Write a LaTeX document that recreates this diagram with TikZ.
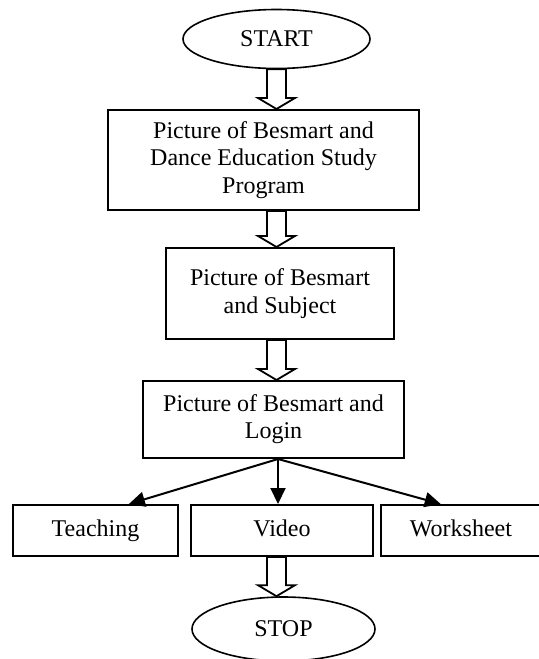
\documentclass[tikz,border=0pt]{standalone}
\usepackage{fontspec}
\setmainfont{Liberation Serif}
\usetikzlibrary{calc,arrows.meta,shapes.geometric}

% hollow block arrow from #1 (top) down to #2 (tip)
\newcommand{\hollowarrow}[2]{%
  \draw[fat] ($(#1)+(-9.5,0)$) -- ($(#2)+(-9.5,-11)$) -- ($(#2)+(-18.5,-11)$)
    -- (#2) -- ($(#2)+(18.5,-11)$) -- ($(#2)+(9.5,-11)$) -- ($(#1)+(9.5,0)$) -- cycle;}

\begin{document}
\begin{tikzpicture}[
  x=0.5pt, y=-0.5pt,
  font=\fontsize{12}{13.6}\selectfont,
  terminal/.style={ellipse, draw, line width=0.8pt, inner sep=0pt},
  box/.style={rectangle, draw, line width=1pt, inner sep=0pt, align=center},
  item/.style={box, minimum height=25.5pt, text height=8.4pt, text depth=2.6pt},
  fat/.style={draw, line width=0.9pt, fill=white, line join=miter},
  branch/.style={line width=1pt, -{Triangle[length=8pt,width=7.5pt]}}
]
  \useasboundingbox (0,0) rectangle (538,659);

  \node[terminal, minimum width=93.5pt, minimum height=29.5pt] (S) at (276.5,39) {START};
  \node[box, minimum width=155.5pt, minimum height=50pt] (B1) at (263.5,160)
    {Picture of Besmart and\\Dance Education Study\\Program};
  \node[box, minimum width=114pt, minimum height=45.5pt] (B2) at (280,293.5)
    {Picture of Besmart\\and Subject};
  \node[box, minimum width=130.5pt, minimum height=38.5pt] (B3) at (273.5,419.5)
    {Picture of Besmart and\\Login};
  \node[item, minimum width=82.5pt] (T) at (95.5,530.5) {Teaching};
  \node[item, minimum width=91pt] (V) at (282,530.5) {Video};
  \node[item, minimum width=80pt] (W) at (461,530.5) {Worksheet};
  \node[terminal, minimum width=91.5pt, minimum height=32pt] (E) at (283.5,629) {STOP};

  \hollowarrow{S.south}{B1.north -| S.south}
  \hollowarrow{B1.south -| S.south}{B2.north -| S.south}
  \hollowarrow{B2.south -| S.south}{B3.north -| S.south}
  \hollowarrow{V.south -| S.south}{E.north -| S.south}

  \coordinate (fork) at ($(B3.south)+(4.5,0)$);
  \draw[branch] (fork) -- ($(T.north)!0.4!(T.north east)$);
  \draw[branch] (fork) -- (fork |- V.north);
  \draw[branch] (fork) -- ($(W.north west)!0.75!(W.north)$);
\end{tikzpicture}
\end{document}
